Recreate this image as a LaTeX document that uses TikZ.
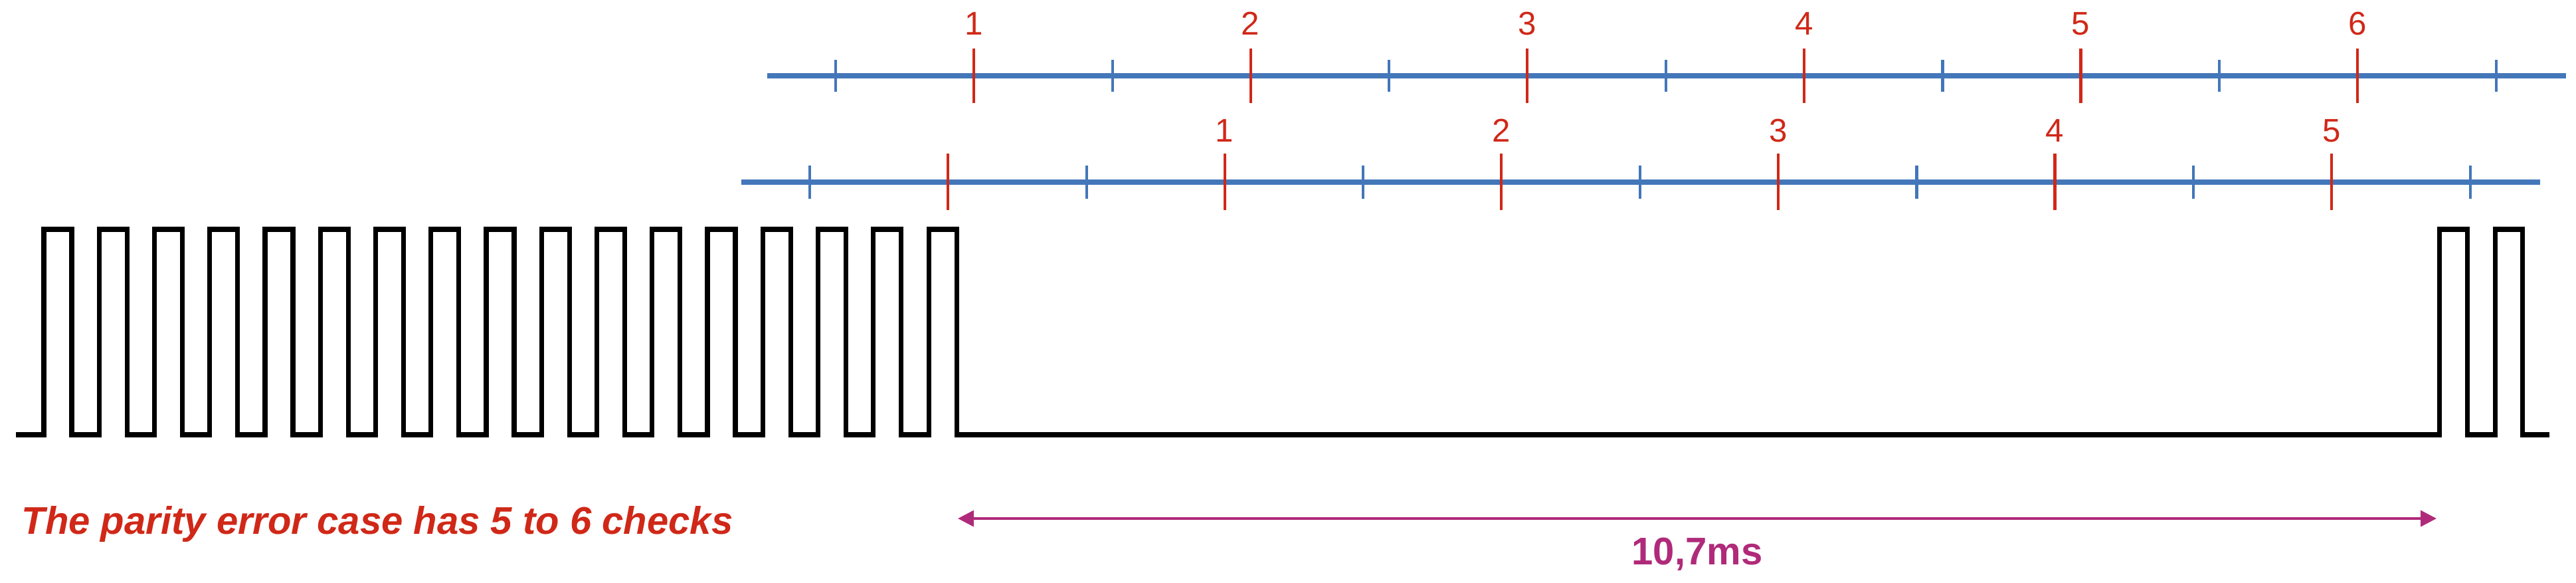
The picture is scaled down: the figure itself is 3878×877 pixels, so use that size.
\documentclass[tikz,border=0pt]{standalone}
\usepackage{fontspec}
\setmainfont{Liberation Sans}
\usepackage{tikz}
\usetikzlibrary{arrows.meta}

\definecolor{tickred}{RGB}{208,40,24}
\definecolor{axisblue}{RGB}{67,119,185}
\definecolor{spanpurple}{RGB}{176,42,122}

\begin{document}
\begin{tikzpicture}[x=0.01cm,y=-0.01cm,
  axisline/.style={axisblue,line width=2.3pt},
  minortick/.style={axisblue,line width=1.2pt},
  checktick/.style={tickred,line width=1.2pt},
  checklabel/.style={tickred,anchor=base,inner sep=0pt,font=\fontsize{14}{16}\selectfont},
  wave/.style={black,line width=2pt},
  span/.style={spanpurple,line width=1.1pt,{Triangle[length=6.8pt,width=6.8pt]}-{Triangle[length=6.8pt,width=6.8pt]}}]
\useasboundingbox (0,0) rectangle (3878,877);
% two sampling grids, shifted against each other
\coordinate (topL) at (1155,114);
\coordinate (topR) at (3863,114);
\coordinate (lowL) at (1116,274);
\coordinate (lowR) at (3824,274);
\draw[axisline] (topL) -- (topR);
\draw[axisline] (lowL) -- (lowR);
\foreach \k in {0,...,6} {\draw[minortick] ({1258+416.6*\k},90) -- ++(0,48);}
\foreach \k in {0,...,6} {\draw[minortick] ({1219+416.6*\k},249) -- ++(0,50);}
\foreach \n in {1,...,6} {\draw[checktick] ({1049.4+416.6*\n},73) -- ++(0,82);
  \node[checklabel] (topnum\n) at ({1049.4+416.6*\n},53) {\n};}
\draw[checktick] (1427,231) -- ++(0,85);
\foreach \n in {1,...,5} {\draw[checktick] ({1427+416.6*\n},231) -- ++(0,85);
  \node[checklabel] (lownum\n) at ({1427+416.6*\n},214) {\n};}
% the frame, the gap and the next frame
\draw[wave] (24,654) \foreach \k in {0,...,16} { -| ({66+83.25*\k},345) -| ({108+83.25*\k},654) }
  -| (3672,345) -| (3714,654) -| (3756,345) -| (3797,654) -- (3838,654);
\coordinate (spanL) at (1442,780);
\coordinate (spanR) at (3668,780);
\draw[span] (spanL) -- (spanR);
\node[spanpurple,anchor=base,inner sep=0pt,font=\fontsize{16.5}{19}\selectfont\bfseries] (spanlabel) at (2555,850) {10,7ms};
\node[tickred,anchor=base west,inner sep=0pt,font=\fontsize{16.5}{19}\selectfont\bfseries\itshape] (caption) at (32,804) {The parity error case has 5 to 6 checks};
\end{tikzpicture}
\end{document}
